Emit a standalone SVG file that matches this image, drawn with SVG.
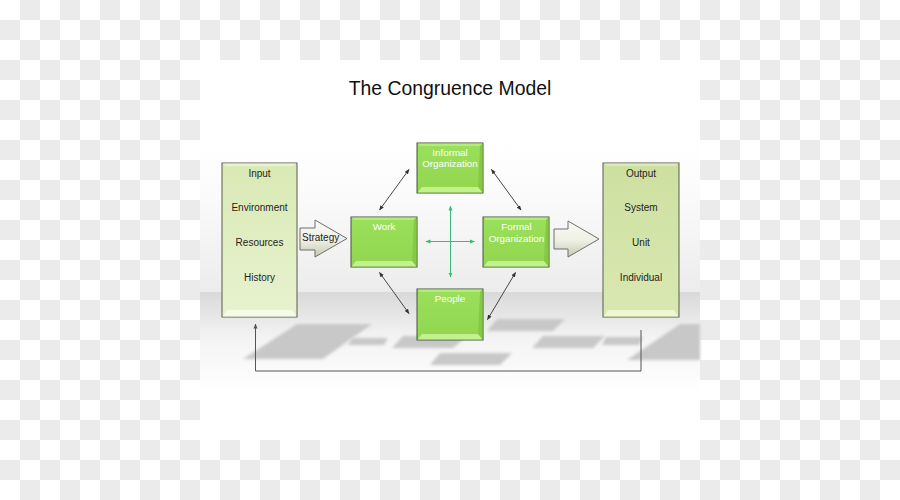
<svg xmlns="http://www.w3.org/2000/svg" width="900" height="500" viewBox="0 0 900 500">
  <defs>
    <pattern id="checker" width="40" height="40" patternUnits="userSpaceOnUse">
      <rect width="40" height="40" fill="#ffffff"/>
      <rect x="20" y="0" width="20" height="20" fill="#ebebeb"/>
      <rect x="0" y="20" width="20" height="20" fill="#ebebeb"/>
    </pattern>
    <linearGradient id="wall" x1="0" y1="0" x2="0" y2="1">
      <stop offset="0" stop-color="#ffffff"/>
      <stop offset="0.4" stop-color="#fafafa"/>
      <stop offset="1" stop-color="#ececec"/>
    </linearGradient>
    <linearGradient id="floor" x1="0" y1="0" x2="0" y2="1">
      <stop offset="0" stop-color="#d9d9d9"/>
      <stop offset="0.45" stop-color="#f3f3f3"/>
      <stop offset="1" stop-color="#ffffff"/>
    </linearGradient>
    <linearGradient id="inGrad" x1="0" y1="0" x2="0" y2="1">
      <stop offset="0" stop-color="#d9e9b4"/>
      <stop offset="1" stop-color="#e8f2d0"/>
    </linearGradient>
    <linearGradient id="outGrad" x1="0" y1="0" x2="0" y2="1">
      <stop offset="0" stop-color="#cde0a0"/>
      <stop offset="1" stop-color="#d9e8b2"/>
    </linearGradient>
    <linearGradient id="greenGrad" x1="0" y1="0" x2="0" y2="1">
      <stop offset="0" stop-color="#9be05a"/>
      <stop offset="1" stop-color="#92d650"/>
    </linearGradient>
    <linearGradient id="arrowGrad" x1="0" y1="0" x2="0" y2="1">
      <stop offset="0" stop-color="#fbfbf6"/>
      <stop offset="0.55" stop-color="#eeefe4"/>
      <stop offset="1" stop-color="#c5c9b0"/>
    </linearGradient>
    <filter id="blur" x="-20%" y="-50%" width="140%" height="200%">
      <feGaussianBlur stdDeviation="1.8"/>
    </filter>
    <marker id="ah" viewBox="0 0 10 10" refX="9" refY="5" markerWidth="5" markerHeight="5" markerUnits="userSpaceOnUse" orient="auto-start-reverse">
      <path d="M0,1 L10,5 L0,9 z" fill="#333333"/>
    </marker>
    <marker id="ahg" viewBox="0 0 10 10" refX="9" refY="5" markerWidth="5" markerHeight="5" markerUnits="userSpaceOnUse" orient="auto-start-reverse">
      <path d="M0,1 L10,5 L0,9 z" fill="#3cb878"/>
    </marker>
    <marker id="ahf" viewBox="0 0 10 10" refX="9" refY="5" markerWidth="5" markerHeight="5" markerUnits="userSpaceOnUse" orient="auto">
      <path d="M0,1 L10,5 L0,9 z" fill="#555555"/>
    </marker>
  </defs>
  <style>
    .dark { font-family: "Liberation Sans", Arial, sans-serif; font-size: 10px; fill: #1e1e1e; text-anchor: middle; }
    .white { font-family: "Liberation Sans", Arial, sans-serif; font-size: 9.8px; fill: #ffffff; text-anchor: middle; }
    .title { font-family: "Liberation Sans", Arial, sans-serif; font-size: 19.4px; fill: #111111; text-anchor: middle; }
    .gbox { fill: url(#greenGrad); stroke: #44523a; stroke-width: 1; }
    .bevTop { fill: #b4ec7c; }
    .bevBot { fill: #c3f18e; }
    .bevSide { fill: #86c848; }
    .conn { stroke: #333333; stroke-width: 0.9; fill: none; marker-start: url(#ah); marker-end: url(#ah); }
    .gconn { stroke: #3cb878; stroke-width: 1; fill: none; marker-start: url(#ahg); marker-end: url(#ahg); }
    .shadow { fill: #c8c8c8; filter: url(#blur); }
    .bigArrow { fill: url(#arrowGrad); stroke: #6e6e6e; stroke-width: 1; }
  </style>

  <!-- background -->
  <rect x="0" y="0" width="900" height="500" fill="url(#checker)"/>
  <rect x="200" y="60" width="500" height="380" fill="#ffffff"/>
  <rect x="200" y="140" width="500" height="152" fill="url(#wall)"/>
  <rect x="200" y="292" width="500" height="100" fill="url(#floor)"/>

  <!-- reflections -->
  <g id="reflections">
    <polygon class="shadow" points="297,324 372,324 323,359 243,359"/>
    <polygon class="shadow" points="352,338 388,338 384,345 348,345"/>
    <polygon class="shadow" points="403,336 467,336 453,348 392,348"/>
    <polygon class="shadow" points="497,319 565,319 553,331 487,331"/>
    <polygon class="shadow" points="543,336 605,336 593,348 532,348"/>
    <polygon class="shadow" points="440,353 512,353 500,365 430,365"/>
    <polygon class="shadow" points="606,337 643,337 639,345 602,345"/>
    <polygon class="shadow" points="680,324 700,324 700,360 627,360"/>
  </g>

  <!-- title -->
  <text class="title" x="450" y="95">The Congruence Model</text>

  <!-- connectors -->
  <g id="connectors">
    <line class="conn" x1="379.5" y1="210" x2="409" y2="169.5"/>
    <line class="conn" x1="491.5" y1="169.5" x2="521" y2="210"/>
    <line class="conn" x1="379.5" y1="272.5" x2="409" y2="313.5"/>
    <line class="conn" x1="515.5" y1="272.5" x2="487.5" y2="319.5"/>
    <line class="gconn" x1="426" y1="241.5" x2="474.5" y2="241.5"/>
    <line class="gconn" x1="450.5" y1="206" x2="450.5" y2="277"/>
    <path d="M641,330 V371 H255.5 V324" fill="none" stroke="#555555" stroke-width="1" marker-end="url(#ahf)"/>
  </g>

  <!-- Input box -->
  <g id="input">
    <rect x="222" y="163" width="75" height="154" fill="url(#inGrad)" stroke="#5a5a50" stroke-width="1"/>
    <polygon points="222.5,316.5 296.5,316.5 292,310 227,310" fill="#f5fbe6"/>
    <polygon points="222.5,163.5 296.5,163.5 293,166 226,166" fill="#eaf3d6"/>
    <text class="dark" x="259.5" y="176.5">Input</text>
    <text class="dark" x="259.5" y="211">Environment</text>
    <text class="dark" x="259.5" y="246">Resources</text>
    <text class="dark" x="259.5" y="281">History</text>
  </g>

  <!-- Output box -->
  <g id="output">
    <rect x="603" y="163" width="76" height="154" fill="url(#outGrad)" stroke="#5a5a50" stroke-width="1"/>
    <polygon points="603.5,316.5 678.5,316.5 674,310 608,310" fill="#eef7cf"/>
    <polygon points="603.5,163.5 678.5,163.5 675,166 607,166" fill="#deebbf"/>
    <text class="dark" x="641" y="176.5">Output</text>
    <text class="dark" x="641" y="211">System</text>
    <text class="dark" x="641" y="246">Unit</text>
    <text class="dark" x="641" y="281">Individual</text>
  </g>

  <!-- Strategy arrow -->
  <g id="strategy">
    <polygon class="bigArrow" points="300,228 315,228 315,220 347,238.5 315,257 315,250 300,250"/>
    <text class="dark" x="302" y="241" style="text-anchor:start">Strategy</text>
  </g>

  <!-- Output arrow -->
  <g id="outArrow">
    <polygon class="bigArrow" points="554,229 568,229 568,221 599,239 568,257 568,249 554,249"/>
  </g>

  <!-- Informal Organization -->
  <g id="informal">
    <rect class="gbox" x="417" y="143" width="66" height="50"/>
    <polygon class="bevTop" points="417.5,143.5 482.5,143.5 480,146 420,146"/>
    <polygon class="bevSide" points="482.5,143.5 482.5,192.5 478,187 480,146"/>
    <polygon class="bevBot" points="417.5,192.5 482.5,192.5 478,187 422,187"/>
    <text class="white" x="450" y="155.5">Informal</text>
    <text class="white" x="450" y="167">Organization</text>
  </g>

  <!-- Work -->
  <g id="work">
    <rect class="gbox" x="351" y="217" width="66" height="50"/>
    <polygon class="bevTop" points="351.5,217.5 416.5,217.5 414,220 354,220"/>
    <polygon class="bevSide" points="416.5,217.5 416.5,266.5 412,261 414,220"/>
    <polygon class="bevBot" points="351.5,266.5 416.5,266.5 412,261 356,261"/>
    <text class="white" x="384" y="230">Work</text>
  </g>

  <!-- Formal Organization -->
  <g id="formal">
    <rect class="gbox" x="483" y="217" width="66" height="50"/>
    <polygon class="bevTop" points="483.5,217.5 548.5,217.5 546,220 486,220"/>
    <polygon class="bevSide" points="548.5,217.5 548.5,266.5 544,261 546,220"/>
    <polygon class="bevBot" points="483.5,266.5 548.5,266.5 544,261 488,261"/>
    <text class="white" x="516.5" y="230">Formal</text>
    <text class="white" x="516.5" y="241.5">Organization</text>
  </g>

  <!-- People -->
  <g id="people">
    <rect class="gbox" x="417" y="289" width="66" height="51"/>
    <polygon class="bevTop" points="417.5,289.5 482.5,289.5 480,292 420,292"/>
    <polygon class="bevSide" points="482.5,289.5 482.5,339.5 478,334 480,292"/>
    <polygon class="bevBot" points="417.5,339.5 482.5,339.5 478,334 422,334"/>
    <text class="white" x="450" y="301.5">People</text>
  </g>
</svg>
